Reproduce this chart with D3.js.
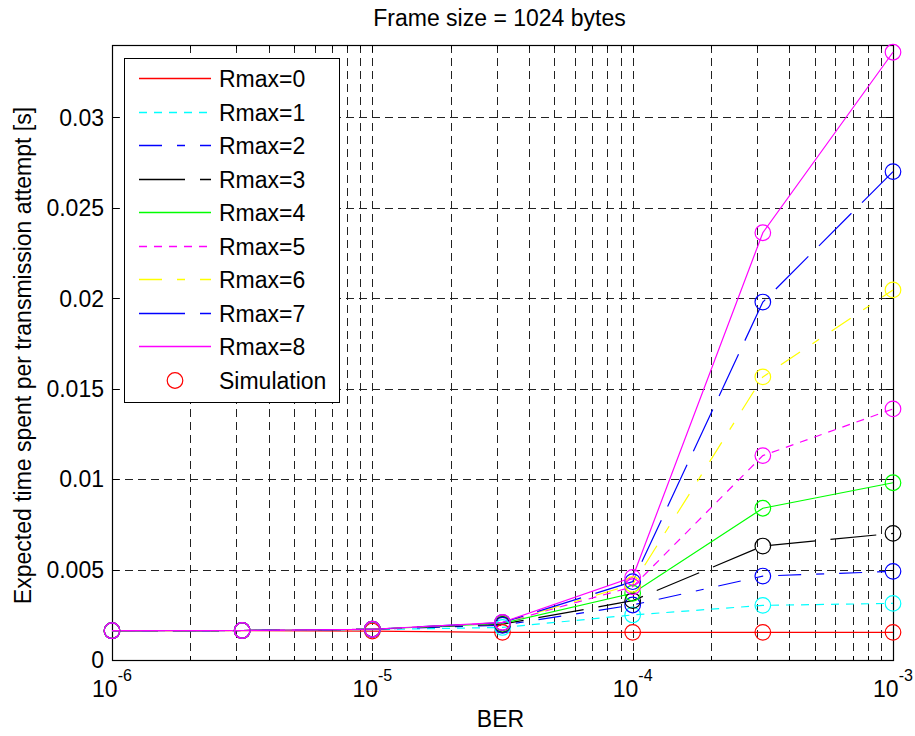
<!DOCTYPE html>
<html>
<head>
<meta charset="utf-8">
<script src="https://cdn.jsdelivr.net/npm/d3@7"></script>
<style>
  html, body { margin: 0; padding: 0; background: #fff; }
  svg { display: block; }
  text { font-family: "Liberation Sans", Arial, Helvetica, sans-serif; fill: #000; }
</style>
</head>
<body>
<svg id="chart" width="915" height="736"></svg>
<script>
// ---------------- data ----------------
const BER = [1e-6, 3.162e-6, 1e-5, 3.162e-5, 1e-4, 3.162e-4, 1e-3];
const seriesNames = ["Rmax=0", "Rmax=1", "Rmax=2", "Rmax=3", "Rmax=4", "Rmax=5", "Rmax=6", "Rmax=7", "Rmax=8"];
const rmax0 = [0.00162, 0.00162, 0.00160, 0.00153, 0.00153, 0.00153, 0.00153];
const rmax1 = [0.00162, 0.00163, 0.00168, 0.00180, 0.00249, 0.00302, 0.00313];
const rmax2 = [0.00162, 0.00163, 0.00170, 0.00192, 0.00304, 0.00464, 0.00490];
const rmax3 = [0.00162, 0.00163, 0.00170, 0.00198, 0.00328, 0.00630, 0.00700];
const rmax4 = [0.00162, 0.00163, 0.00170, 0.00202, 0.00369, 0.00839, 0.00980];
const rmax5 = [0.00162, 0.00163, 0.00170, 0.00205, 0.00405, 0.01130, 0.01388];
const rmax6 = [0.00162, 0.00163, 0.00170, 0.00206, 0.00418, 0.01565, 0.02046];
const rmax7 = [0.00162, 0.00163, 0.00170, 0.00207, 0.00433, 0.01979, 0.02700];
const rmax8 = [0.00162, 0.00163, 0.00170, 0.00208, 0.00457, 0.02362, 0.03360];
const seriesValues = [rmax0, rmax1, rmax2, rmax3, rmax4, rmax5, rmax6, rmax7, rmax8];
const simulationLabel = "Simulation";
const xMajorTicks = [1e-6, 1e-5, 1e-4, 1e-3];
const xTickExponents = ["-6", "-5", "-4", "-3"];
const xMinorTicks = [2e-6,3e-6,4e-6,5e-6,6e-6,7e-6,8e-6,9e-6,
                     2e-5,3e-5,4e-5,5e-5,6e-5,7e-5,8e-5,9e-5,
                     2e-4,3e-4,4e-4,5e-4,6e-4,7e-4,8e-4,9e-4];
const yTicks = [0, 0.005, 0.01, 0.015, 0.02, 0.025, 0.03];
const yTickLabels = ["0", "0.005", "0.01", "0.015", "0.02", "0.025", "0.03"];
const titleText = "Frame size = 1024 bytes";
const xLabelText = "BER";
const yLabelText = "Expected time spent per transmission attempt [s]";

// ---------------- styles ----------------
const colors = ["#ff0000", "#00ffff", "#0000ff", "#000000", "#00ff00", "#ff00ff", "#ffff00", "#0000ff", "#ff00ff"];
const dashes = [null, "8,7", "23,15,8,15", "46,15", null, "8,7", "23,15,8,15", "46,15", null];

const FS = 23;
const pLeft = 112, pRight = 893, pTop = 45, pBottom = 660;

const svg = d3.select("#chart");
const x = d3.scaleLog().domain([1e-6, 1e-3]).range([pLeft, pRight]);
const y = d3.scaleLinear().domain([0, 0.034]).range([pBottom, pTop]);

// grid
const grid = svg.append("g").attr("stroke", "#222").attr("stroke-width", 1)
  .attr("stroke-dasharray", "8,5").attr("shape-rendering", "crispEdges");
grid.selectAll("line.vx").data(xMajorTicks.concat(xMinorTicks)).join("line")
  .attr("x1", d => Math.round(x(d)) + 0.5).attr("x2", d => Math.round(x(d)) + 0.5)
  .attr("y1", pTop).attr("y2", pBottom);
grid.selectAll("line.hy").data(yTicks).join("line")
  .attr("y1", d => Math.round(y(d)) + 0.5).attr("y2", d => Math.round(y(d)) + 0.5)
  .attr("x1", pLeft).attr("x2", pRight);

// axes (inward ticks on all sides)
function styleAxis(g) {
  g.select(".domain").remove();
  g.selectAll(".tick line").attr("stroke", "#000").attr("shape-rendering", "crispEdges");
  g.selectAll(".tick text").remove();
}
svg.append("g").attr("transform", `translate(0,${pBottom})`)
  .call(d3.axisBottom(x).tickValues(xMajorTicks).tickSize(-7)).call(styleAxis);
svg.append("g").attr("transform", `translate(0,${pBottom})`)
  .call(d3.axisBottom(x).tickValues(xMinorTicks).tickSize(-4)).call(styleAxis);
svg.append("g").attr("transform", `translate(0,${pTop})`)
  .call(d3.axisTop(x).tickValues(xMajorTicks).tickSize(-7)).call(styleAxis);
svg.append("g").attr("transform", `translate(0,${pTop})`)
  .call(d3.axisTop(x).tickValues(xMinorTicks).tickSize(-4)).call(styleAxis);
svg.append("g").attr("transform", `translate(${pLeft},0)`)
  .call(d3.axisLeft(y).tickValues(yTicks).tickSize(-7)).call(styleAxis);
svg.append("g").attr("transform", `translate(${pRight},0)`)
  .call(d3.axisRight(y).tickValues(yTicks).tickSize(-7)).call(styleAxis);

// box
svg.append("rect").attr("x", pLeft + 0.5).attr("y", pTop + 0.5)
  .attr("width", pRight - pLeft).attr("height", pBottom - pTop)
  .attr("fill", "none").attr("stroke", "#000").attr("stroke-width", 1.2);

// y tick labels
svg.append("g").selectAll("text").data(yTicks).join("text")
  .attr("x", pLeft - 8).attr("y", d => y(d)).attr("dy", "0.36em")
  .attr("text-anchor", "end").attr("font-size", FS)
  .text((d, i) => yTickLabels[i]);

// x tick labels with superscripts
const xl = svg.append("g").selectAll("text").data(xMajorTicks).join("text")
  .attr("x", d => x(d)).attr("y", 697)
  .attr("text-anchor", "middle").attr("font-size", FS);
xl.append("tspan").text("10");
xl.append("tspan").attr("font-size", 16).attr("dy", -16).text((d, i) => xTickExponents[i]);

// series lines
const line = d3.line().x((d, i) => x(BER[i])).y(d => y(d));
const plot = svg.append("g");
seriesValues.forEach((vals, s) => {
  plot.append("path").datum(vals)
    .attr("d", line).attr("fill", "none")
    .attr("stroke", colors[s]).attr("stroke-width", 1.2)
    .attr("stroke-dasharray", dashes[s]);
});
// simulation markers
seriesValues.forEach((vals, s) => {
  plot.append("g").selectAll("circle").data(vals).join("circle")
    .attr("cx", (d, i) => x(BER[i])).attr("cy", d => y(d)).attr("r", 7.8)
    .attr("fill", "none").attr("stroke", colors[s]).attr("stroke-width", 1.2);
});

// title & labels
svg.append("text").attr("x", (pLeft + pRight) / 2 - 3).attr("y", 26)
  .attr("text-anchor", "middle").attr("font-size", FS).text(titleText);
svg.append("text").attr("x", (pLeft + pRight) / 2 - 2).attr("y", 727)
  .attr("text-anchor", "middle").attr("font-size", FS).text(xLabelText);
svg.append("text").attr("transform", `translate(31,${(pTop + pBottom) / 2 + 3}) rotate(-90)`)
  .attr("text-anchor", "middle").attr("font-size", FS).text(yLabelText);

// legend
const lg = svg.append("g");
lg.append("rect").attr("x", 124.5).attr("y", 58.5).attr("width", 215).attr("height", 344)
  .attr("fill", "#fff").attr("stroke", "#000").attr("stroke-width", 1);
const rowY = i => Math.round(78 + 33.5 * i) + 0.5;
seriesNames.forEach((name, i) => {
  lg.append("line").attr("x1", 139).attr("x2", 211).attr("y1", rowY(i)).attr("y2", rowY(i))
    .attr("stroke", colors[i]).attr("stroke-width", 1.3).attr("stroke-dasharray", dashes[i]);
  lg.append("text").attr("x", 219).attr("y", rowY(i)).attr("dy", "0.36em")
    .attr("font-size", FS).text(name);
});
lg.append("circle").attr("cx", 175).attr("cy", rowY(9)).attr("r", 7.8)
  .attr("fill", "none").attr("stroke", "#ff0000").attr("stroke-width", 1.2);
lg.append("text").attr("x", 219).attr("y", rowY(9)).attr("dy", "0.36em")
  .attr("font-size", FS).text(simulationLabel);
</script>
</body>
</html>
